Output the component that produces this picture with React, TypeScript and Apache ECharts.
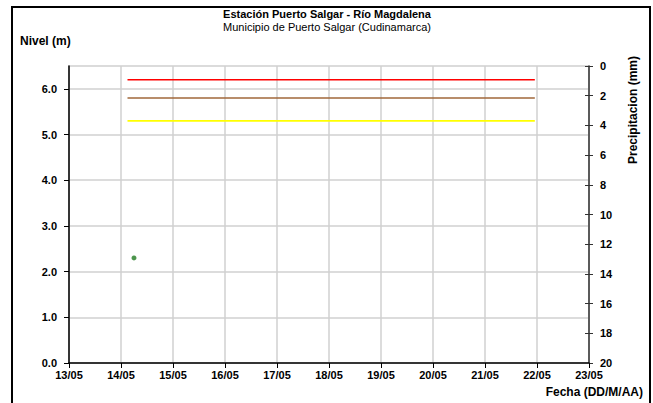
import React, { useEffect, useRef } from "react";
import * as echarts from "echarts";

const DAY = 86400000;
const axisStart = Date.UTC(2023, 4, 13);
const axisEnd = Date.UTC(2023, 4, 23);

const nivelTicks = [0, 1, 2, 3, 4, 5, 6];

const thresholdStart = Date.UTC(2023, 4, 14, 3, 0);
const thresholdEnd = Date.UTC(2023, 4, 21, 23, 0);
const thresholdNames = ["Alerta roja", "Alerta naranja", "Alerta amarilla"];
const thresholdValues = [6.2, 5.8, 5.3];
const thresholdColors = ["#ff0000", "#a0673a", "#ffff00"];

const levelTimes = [Date.UTC(2023, 4, 14, 6, 0)];
const levelValues = [2.3];

const pad = (n: number) => (n < 10 ? "0" + n : "" + n);
const fmtDate = (v: number) => {
  const d = new Date(v);
  return pad(d.getUTCDate()) + "/" + pad(d.getUTCMonth() + 1);
};

export default function App() {
  const ref = useRef<HTMLDivElement>(null);
  useEffect(() => {
    if (!ref.current) return;
    const chart = echarts.init(ref.current, undefined, { renderer: "svg" });
    const font = "'Liberation Sans', Arial, sans-serif";
    const thresholdSeries = thresholdValues.map((v, i) => ({
      name: thresholdNames[i],
      type: "line",
      xAxisIndex: 0,
      yAxisIndex: 0,
      showSymbol: false,
      silent: true,
      lineStyle: { color: thresholdColors[i], width: 1.6 },
      data: [
        [thresholdStart, v],
        [thresholdEnd, v],
      ],
    }));
    chart.setOption({
      animation: false,
      backgroundColor: "#ffffff",
      textStyle: { fontFamily: font },
      grid: {
        left: 69,
        top: 66,
        right: 64,
        bottom: 40,
        containLabel: false,
        show: true,
        borderColor: "#d0d0d0",
        borderWidth: 1.5,
      },
      xAxis: {
        type: "value",
        min: axisStart,
        max: axisEnd,
        interval: DAY,
        axisLine: { lineStyle: { color: "#000", width: 1.5 } },
        axisTick: { lineStyle: { color: "#000" }, length: 5 },
        axisLabel: {
          formatter: (v: number) => fmtDate(v),
          color: "#000",
          fontWeight: "bold",
          fontSize: 11,
          fontFamily: font,
          margin: 6,
        },
        splitLine: { show: true, lineStyle: { color: "#d0d0d0", width: 1.5 } },
      },
      yAxis: [
        {
          type: "value",
          min: 0,
          max: 6.5,
          interval: 1,
          position: "left",
          axisLine: { show: true, lineStyle: { color: "#000", width: 1.5 } },
          axisTick: {
            show: true,
            length: 5,
            customValues: nivelTicks,
            lineStyle: { color: "#000" },
          },
          axisLabel: {
            customValues: nivelTicks,
            formatter: (v: number) => v.toFixed(1),
            color: "#000",
            fontWeight: "bold",
            fontSize: 11,
            fontFamily: font,
            margin: 12,
          },
          splitLine: { show: true, lineStyle: { color: "#d0d0d0", width: 1.5 } },
        },
        {
          type: "value",
          min: 0,
          max: 20,
          interval: 2,
          inverse: true,
          position: "right",
          axisLine: { show: true, lineStyle: { color: "#333", width: 1.5 } },
          axisTick: { show: true, length: 4, lineStyle: { color: "#333" } },
          axisLabel: {
            color: "#000",
            fontWeight: "bold",
            fontSize: 11,
            fontFamily: font,
            margin: 11,
          },
          splitLine: { show: false },
        },
        {
          type: "value",
          min: 0,
          max: 20,
          interval: 2,
          inverse: true,
          position: "right",
          axisLine: { show: false },
          axisTick: { show: true, inside: true, length: 4, lineStyle: { color: "#333" } },
          axisLabel: { show: false },
          splitLine: { show: false },
        },
      ],
      series: [
        ...thresholdSeries,
        {
          name: "Nivel",
          type: "scatter",
          xAxisIndex: 0,
          yAxisIndex: 0,
          symbolSize: 5,
          itemStyle: { color: "#1f7a1f" },
          data: levelTimes.map((t, i) => [t, levelValues[i]]),
        },
      ],
      graphic: [
        {
          type: "rect",
          shape: { x: 12, y: 7, width: 638, height: 410 },
          style: { fill: "none", stroke: "#000", lineWidth: 2 },
          silent: true,
        },
        {
          type: "text",
          x: 327,
          y: 14,
          style: {
            text: "Estación Puerto Salgar - Río Magdalena",
            fontFamily: font,
            fontWeight: "bold",
            fontSize: 11,
            fill: "#000",
            align: "center",
            verticalAlign: "middle",
          },
        },
        {
          type: "text",
          x: 327,
          y: 27,
          style: {
            text: "Municipio de Puerto Salgar (Cudinamarca)",
            fontFamily: font,
            fontSize: 11,
            fill: "#000",
            align: "center",
            verticalAlign: "middle",
          },
        },
        {
          type: "text",
          x: 20,
          y: 41,
          style: {
            text: "Nivel (m)",
            fontFamily: font,
            fontWeight: "bold",
            fontSize: 12,
            fill: "#000",
            align: "left",
            verticalAlign: "middle",
          },
        },
        {
          type: "text",
          x: 633,
          y: 110,
          rotation: Math.PI / 2,
          style: {
            text: "Precipitacion (mm)",
            fontFamily: font,
            fontWeight: "bold",
            fontSize: 12,
            fill: "#000",
            align: "center",
            verticalAlign: "middle",
          },
        },
        {
          type: "text",
          x: 643,
          y: 392,
          style: {
            text: "Fecha (DD/M/AA)",
            fontFamily: font,
            fontWeight: "bold",
            fontSize: 12,
            fill: "#000",
            align: "right",
            verticalAlign: "middle",
          },
        },
      ],
    });
    return () => chart.dispose();
  }, []);
  return (
    <div
      ref={ref}
      style={{ position: "fixed", left: 0, top: 0, width: 653, height: 403 }}
    />
  );
}
